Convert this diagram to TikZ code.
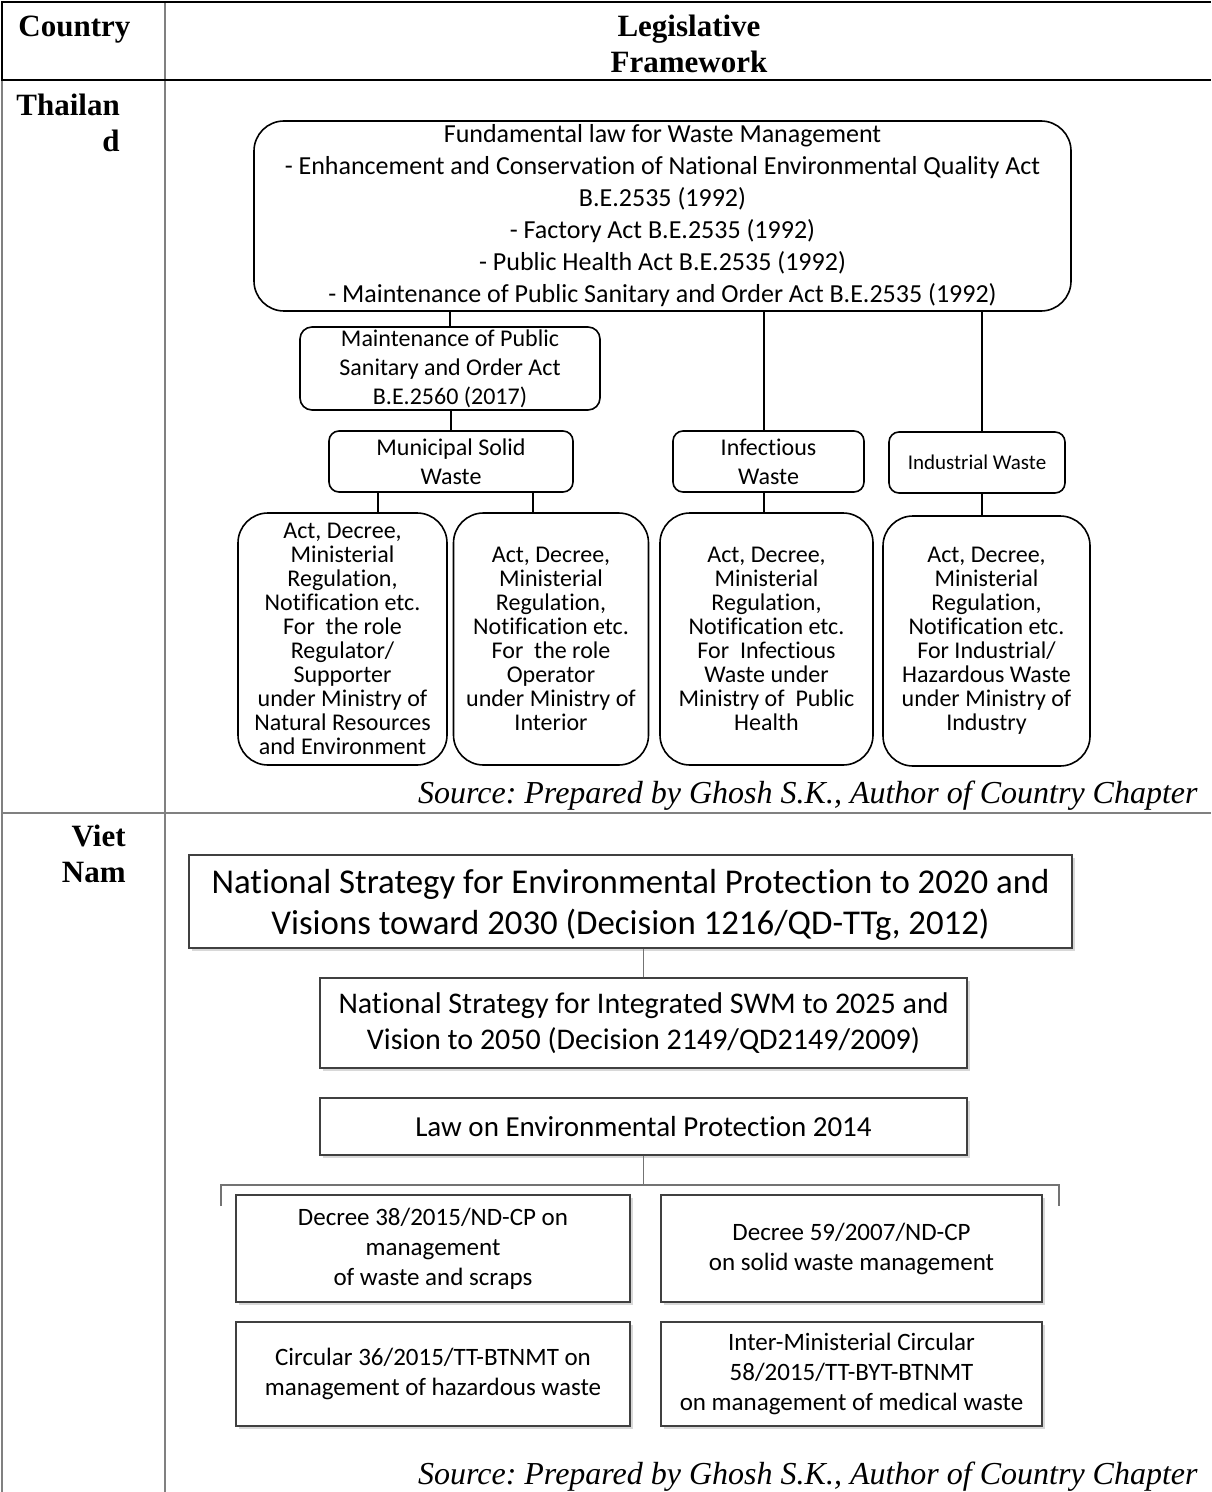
\documentclass[tikz,border=0pt]{standalone}
\usepackage{fontspec}
\setmainfont{Liberation Serif}
\newfontfamily\calib[Ligatures=NoCommon]{Carlito}
\usetikzlibrary{shadows,calc}
\frenchspacing
\begin{document}
\begin{tikzpicture}[x=0.5pt,y=-0.5pt,
  tbox/.style={draw=black,line width=0.8pt,fill=white,align=center,inner sep=0pt},
  vbox/.style={draw=black!75,line width=0.6pt,fill=white,align=center,inner sep=0pt,
    drop shadow={opacity=0.3,shadow xshift=1.3pt,shadow yshift=-1.3pt}},
  tline/.style={draw=black,line width=0.7pt},
  vline/.style={draw=black!55,line width=0.6pt},
  gridline/.style={draw=black!50,line width=1pt},
  hgridline/.style={draw=black,line width=1.1pt},
  hdr/.style={font=\fontsize{15.5pt}{17.5pt}\selectfont\bfseries,inner sep=0pt},
  src/.style={font=\fontsize{16pt}{18pt}\selectfont\itshape,inner sep=0pt,anchor=base east},
  tfont/.style={font=\calib\fontsize{13pt}{16pt}\selectfont},
  mfont/.style={font=\calib\fontsize{12pt}{14.5pt}\selectfont},
  afont/.style={font=\calib\fontsize{12pt}{12pt}\selectfont},
  dfont/.style={font=\calib\fontsize{12.5pt}{15pt}\selectfont}
]
\useasboundingbox (0,0) rectangle (1211,1492);
\fill[white] (0,0) rectangle (1211,1492);

% table grid
\draw[gridline] (2,80) -- (2,1492);
\draw[gridline] (165,2) -- (165,1492);
\draw[gridline] (2,813) -- (1211,813);
\draw[hgridline] (1,2) -- (1211,2);
\draw[hgridline] (1,80) -- (1211,80);
\draw[hgridline] (2,2) -- (2,80);

% header and country labels
\node[hdr,anchor=base west] (hcountry) at (18,37) {Country};
\node[hdr,anchor=base] (hleg1) at (689,37) {Legislative};
\node[hdr,anchor=base] (hleg2) at (689,73) {Framework};
\node[hdr,anchor=base west] (th1) at (16,116) {Thailan};
\node[hdr,anchor=base east] (th2) at (120,152) {d};
\node[hdr,anchor=base east] (vn1) at (126,846) {Viet};
\node[hdr,anchor=base east] (vn2) at (126,882) {Nam};

% ---------------- Thailand ----------------
\node[tbox,tfont,rounded corners=15pt,minimum width=408.5pt,minimum height=95pt] (top) at (662.5,216)
 {Fundamental law for Waste Management\\
  - Enhancement and Conservation of National Environmental Quality Act\\
  B.E.2535 (1992)\\
  - Factory Act B.E.2535 (1992)\\
  - Public Health Act B.E.2535 (1992)\\
  - Maintenance of Public Sanitary and Order Act B.E.2535 (1992)};

\node[tbox,mfont,rounded corners=6pt,minimum width=150pt,minimum height=41.5pt] (mps) at (450,368.5)
 {Maintenance of Public\\Sanitary and Order Act\\B.E.2560 (2017)};
\node[tbox,mfont,rounded corners=5pt,minimum width=122pt,minimum height=30.5pt] (msw) at (451,461.5)
 {Municipal Solid\\Waste};
\node[tbox,mfont,rounded corners=5pt,minimum width=95.5pt,minimum height=30.5pt] (inf) at (768.5,461.5)
 {Infectious\\Waste};
\node[tbox,font=\calib\fontsize{10.5pt}{12pt}\selectfont,rounded corners=5pt,minimum width=88pt,minimum height=30.5pt] (ind) at (977,462.5)
 {Industrial Waste};

\node[tbox,afont,rounded corners=15pt,minimum width=104.5pt,minimum height=126pt] (act1) at (342.5,639)
 {Act, Decree,\\Ministerial\\Regulation,\\Notification etc.\\For\ \ the role\\Regulator/\\Supporter\\under Ministry of\\Natural Resources\\and Environment};
\node[tbox,afont,rounded corners=15pt,minimum width=97.5pt,minimum height=126pt] (act2) at (551,639)
 {Act, Decree,\\Ministerial\\Regulation,\\Notification etc.\\For\ \ the role\\Operator\\under Ministry of\\Interior};
\node[tbox,afont,rounded corners=15pt,minimum width=106.5pt,minimum height=126pt] (act3) at (766.5,639)
 {Act, Decree,\\Ministerial\\Regulation,\\Notification etc.\\For\ \ Infectious\\Waste under\\Ministry of\ \ Public\\Health};
\node[tbox,afont,rounded corners=15pt,minimum width=103.5pt,minimum height=125pt] (act4) at (986.5,641)
 {Act, Decree,\\Ministerial\\Regulation,\\Notification etc.\\For Industrial/\\Hazardous Waste\\under Ministry of\\Industry};

\coordinate (xa) at (378,0);
\coordinate (xb) at (533,0);
\coordinate (xi) at (764,0);
\coordinate (xd) at (982,0);
\draw[tline] (mps.north) -- (mps.north |- top.south);
\draw[tline] (msw.north) -- (msw.north |- mps.south);
\draw[tline] (xa |- msw.south) -- (xa |- act1.north);
\draw[tline] (xb |- msw.south) -- (xb |- act2.north);
\draw[tline] (xi |- top.south) -- (xi |- inf.north);
\draw[tline] (xi |- inf.south) -- (xi |- act3.north);
\draw[tline] (xd |- top.south) -- (xd |- ind.north);
\draw[tline] (xd |- ind.south) -- (xd |- act4.north);

\node[src] (src1) at (1198,803) {Source: Prepared by Ghosh S.K., Author of Country Chapter};

% ---------------- Viet Nam ----------------
\node[vbox,font=\calib\fontsize{17.4pt}{20.5pt}\selectfont,minimum width=441.5pt,minimum height=46.5pt] (v1) at (630.5,901.5)
 {\rule{0pt}{15pt}National Strategy for Environmental Protection to 2020 and\\Visions toward 2030 (Decision 1216/QD-TTg, 2012)};
\node[vbox,font=\calib\fontsize{15pt}{18pt}\selectfont,minimum width=323.5pt,minimum height=45pt] (v2) at (643.5,1023)
 {National Strategy for Integrated SWM to 2025 and\\Vision to 2050 (Decision 2149/QD2149/2009)};
\node[vbox,font=\calib\fontsize{14.5pt}{17pt}\selectfont,minimum width=323.5pt,minimum height=28.5pt] (v3) at (643.5,1126.5)
 {Law on Environmental Protection 2014};

\node[vbox,dfont,minimum width=197pt,minimum height=53.5pt] (d1) at (433,1248.5)
 {Decree 38/2015/ND-CP on\\management\\of waste and scraps};
\node[vbox,dfont,minimum width=190.5pt,minimum height=53.5pt] (d2) at (851.5,1248.5)
 {Decree 59/2007/ND-CP\\on solid waste management};
\node[vbox,dfont,minimum width=197pt,minimum height=52pt] (c1) at (433,1374)
 {Circular 36/2015/TT-BTNMT on\\management of hazardous waste};
\node[vbox,dfont,minimum width=190.5pt,minimum height=52pt] (c2) at (851.5,1374)
 {Inter-Ministerial Circular\\58/2015/TT-BYT-BTNMT\\on management of medical waste};

\coordinate (bl) at (221,1185);
\coordinate (br) at (1059,1185);
\coordinate (blt) at (221,1206);
\coordinate (brt) at (1059,1206);
\draw[vline] (v2.north) -- (v2.north |- v1.south);
\draw[vline] (v3.south) -- (v3.south |- bl);
\draw[vline] (blt) -- (bl) -- (br) -- (brt);

\node[src] (src2) at (1198,1484) {Source: Prepared by Ghosh S.K., Author of Country Chapter};
\end{tikzpicture}
\end{document}
